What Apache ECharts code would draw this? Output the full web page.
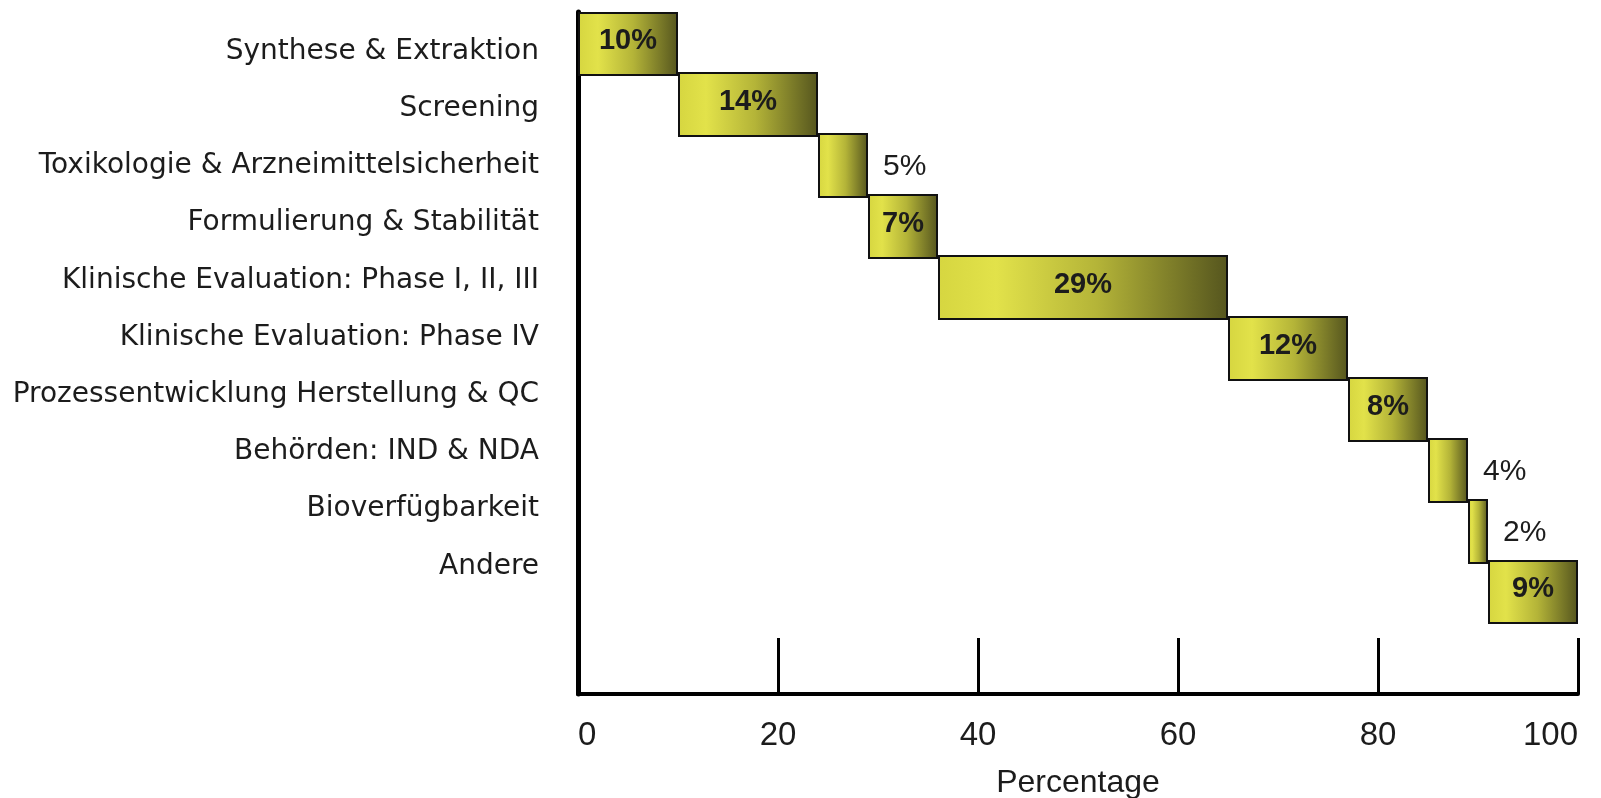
<!DOCTYPE html>
<html>
<head>
<meta charset="utf-8">
<script src="https://cdn.jsdelivr.net/npm/echarts@6/dist/echarts.min.js"></script>
<style>
  html, body { margin: 0; padding: 0; background: #ffffff; }
  #chart { width: 1601px; height: 798px; }
</style>
</head>
<body>
<div id="chart"></div>
<script>
// Phases of drug development and their share of total cost (%)
const categories = [
  'Synthese & Extraktion',
  'Screening',
  'Toxikologie & Arzneimittelsicherheit',
  'Formulierung & Stabilität',
  'Klinische Evaluation: Phase I, II, III',
  'Klinische Evaluation: Phase IV',
  'Prozessentwicklung Herstellung & QC',
  'Behörden: IND & NDA',
  'Bioverfügbarkeit',
  'Andere'
];
const shares = [10, 14, 5, 7, 29, 12, 8, 4, 2, 9];
const axisTitle = 'Percentage';

// Waterfall: each bar starts where the previous one ended
const offsets = shares.map((_, i) => shares.slice(0, i).reduce((a, b) => a + b, 0));

const narrow = '"Liberation Sans Narrow", "Arial Narrow", "Liberation Sans", Arial, sans-serif';
const textColor = '#1c1c1c';

const barFill = new echarts.graphic.LinearGradient(0, 0, 1, 0, [
  { offset: 0, color: '#d6d640' },
  { offset: 0.2, color: '#e2e24a' },
  { offset: 0.55, color: '#b4b438' },
  { offset: 1, color: '#55551e' }
]);

// Narrow bars carry their caption beside them, the rest inside
const shareData = shares.map(v => {
  const outside = v < 6;
  return {
    value: v,
    label: outside
      ? { position: 'right', distance: 15, offset: [0, 1], fontWeight: 'normal', fontSize: 30 }
      : { position: 'inside', offset: [0, -3] }
  };
});

const chart = echarts.init(document.getElementById('chart'), null, { renderer: 'canvas' });

chart.setOption({
  animation: false,
  backgroundColor: '#ffffff',
  grid: [
    // bars
    { left: 578, width: 1000, top: 13, height: 610, containLabel: false, outerBoundsMode: 'none' },
    // visible axes frame
    { left: 578, width: 1000, top: 12, height: 682, containLabel: false, outerBoundsMode: 'none' },
    // category captions
    { left: 578, width: 1000, top: 23, height: 572, containLabel: false, outerBoundsMode: 'none' }
  ],
  xAxis: [
    { gridIndex: 0, type: 'value', min: 0, max: 100, show: false },
    {
      gridIndex: 1, type: 'value', min: 0, max: 100, interval: 20,
      axisLine: { show: true, lineStyle: { color: '#000', width: 4 } },
      axisTick: { show: true, inside: true, length: 56, lineStyle: { color: '#000', width: 3 } },
      splitLine: { show: false },
      axisLabel: {
        color: textColor, fontFamily: narrow, fontSize: 33, margin: 25,
        alignMinLabel: 'left', alignMaxLabel: 'right'
      },
      name: axisTitle,
      nameLocation: 'middle',
      nameGap: 73,
      nameTextStyle: { color: textColor, fontFamily: narrow, fontSize: 32 }
    },
    { gridIndex: 2, type: 'value', min: 0, max: 100, show: false }
  ],
  yAxis: [
    {
      gridIndex: 0, type: 'category', data: categories, inverse: true,
      axisLine: { show: false }, axisTick: { show: false }, axisLabel: { show: false },
      splitLine: { show: false }
    },
    {
      gridIndex: 1, type: 'value', min: 0, max: 1,
      axisLine: { show: true, lineStyle: { color: '#000', width: 5 } },
      axisTick: { show: false }, axisLabel: { show: false }, splitLine: { show: false }
    },
    {
      gridIndex: 2, type: 'category', data: categories, inverse: true,
      axisLine: { show: false }, axisTick: { show: false }, splitLine: { show: false },
      axisLabel: {
        margin: 39, color: textColor,
        fontFamily: '"DejaVu Sans", Verdana, sans-serif', fontSize: 28
      }
    }
  ],
  series: [
    {
      name: 'offset',
      type: 'bar',
      xAxisIndex: 0, yAxisIndex: 0,
      stack: 'waterfall',
      data: offsets,
      barWidth: 65,
      itemStyle: { color: 'transparent', borderColor: 'transparent' },
      silent: true
    },
    {
      name: 'share',
      type: 'bar',
      xAxisIndex: 0, yAxisIndex: 0,
      stack: 'waterfall',
      data: shareData,
      barWidth: 65,
      itemStyle: { color: barFill, borderColor: '#111', borderWidth: 2 },
      label: {
        show: true,
        formatter: '{c}%',
        color: textColor,
        fontFamily: narrow,
        fontWeight: 'bold',
        fontSize: 29
      }
    }
  ]
});
</script>
</body>
</html>
